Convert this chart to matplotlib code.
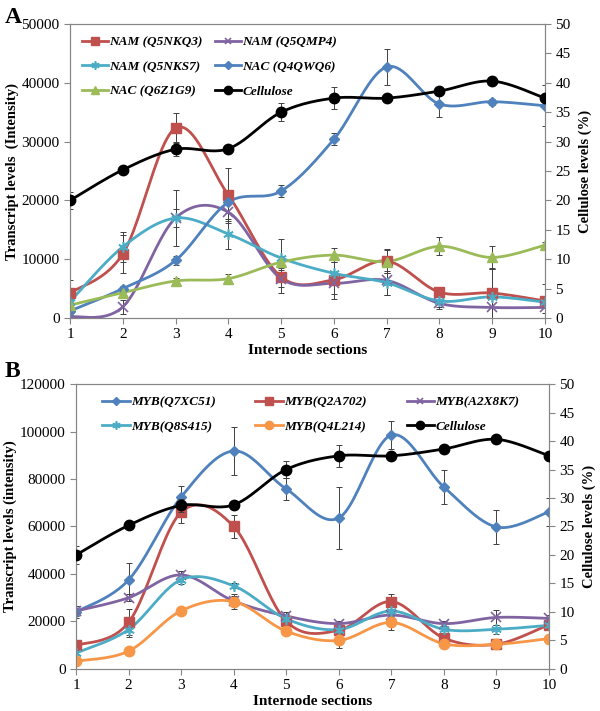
import numpy as np
import matplotlib
matplotlib.use("Agg")
import matplotlib.pyplot as plt
from matplotlib.lines import Line2D

plt.rcParams['font.family'] = ['Liberation Serif', 'DejaVu Serif']

sections = [1, 2, 3, 4, 5, 6, 7, 8, 9, 10]

# cellulose (%), shared by both panels
cellulose = [20.0, 25.2, 28.7, 28.8, 35.0, 37.4, 37.4, 38.6, 40.3, 37.4]
cellulose_err = [1.5, 0.4, 1.2, 0.7, 1.5, 1.9, 0.5, 0.6, 0.5, 0.6]

# panel A
nam_q5nkq3 = [4250, 10900, 32300, 20900, 7000, 6500, 9700, 4400, 4250, 2900]
nam_q5nkq3_err = [2300, 3300, 2600, 4700, 2800, 3300, 2000, 500, 4200, 2900]
nam_q5qmp4 = [200, 1900, 17000, 18000, 6700, 5900, 6400, 2500, 1800, 1800]
nam_q5qmp4_err = [300, 1200, 1500, 1500, 1500, 1800, 2500, 1000, 1800, 1000]
nam_q5nks7 = [2800, 12100, 17000, 14300, 10200, 7600, 6000, 2900, 3600, 2700]
nam_q5nks7_err = [500, 2500, 4700, 2600, 3300, 2000, 2000, 1000, 4700, 1000]
nac_q4qwq6 = [1200, 5000, 9800, 19700, 21600, 30400, 42700, 36400, 36800, 36100]
nac_q4qwq6_err = [300, 500, 700, 1800, 1000, 1000, 3000, 2200, 500, 3500]
nac_q6z1g9 = [2200, 4300, 6300, 6700, 9500, 10700, 9600, 12200, 10300, 12400]
nac_q6z1g9_err = [500, 500, 500, 800, 1000, 1200, 2000, 1500, 2000, 500]

# panel B
myb_q7xc51 = [24000, 37500, 72400, 91800, 75800, 63600, 98500, 76600, 59800, 66200]
myb_q7xc51_err = [2500, 7000, 4700, 10200, 4500, 13000, 6000, 7000, 7000, 6000]
myb_q2a702 = [9900, 19600, 66000, 60000, 20100, 16300, 28400, 13000, 10400, 18700]
myb_q2a702_err = [1500, 5500, 4500, 5000, 2000, 2000, 3000, 1500, 1500, 1500]
myb_a2x8k7 = [24400, 30000, 39600, 28600, 22300, 19100, 22700, 19100, 21700, 21300]
myb_a2x8k7_err = [2000, 1500, 1500, 2000, 1500, 1000, 2000, 1000, 3000, 1500]
myb_q8s415 = [6700, 16600, 37600, 35000, 21100, 16600, 24400, 16700, 16700, 18400]
myb_q8s415_err = [1500, 3000, 2000, 1000, 2000, 2000, 2000, 3000, 2000, 1500]
myb_q4l214 = [3300, 7500, 24500, 28400, 15900, 12000, 19600, 10600, 10400, 12800]
myb_q4l214_err = [500, 700, 1000, 3000, 1000, 3000, 3000, 1000, 500, 500]

blue = '#4F81BD'
red = '#C0504D'
green = '#9BBB59'
purple = '#8064A2'
cyan = '#4BACC6'
orange = '#F79646'
grey = '#868686'
star = (6, 2, 0)


def smooth(x, y, n=25):
    # excel-like smoothed line through the points
    x = np.asarray(x, float)
    y = np.asarray(y, float)
    px = np.concatenate([[x[0]], x, [x[-1]]])
    py = np.concatenate([[y[0]], y, [y[-1]]])
    t = np.linspace(0, 1, n)[:, None]
    out = []
    for i in range(len(x) - 1):
        p0 = np.array([px[i], py[i]])
        p1 = np.array([px[i + 1], py[i + 1]])
        p2 = np.array([px[i + 2], py[i + 2]])
        p3 = np.array([px[i + 3], py[i + 3]])
        c1 = p1 + (p2 - p0) / 6
        c2 = p2 - (p3 - p1) / 6
        seg = ((1 - t) ** 3) * p1 + 3 * ((1 - t) ** 2) * t * c1 + 3 * (1 - t) * t ** 2 * c2 + t ** 3 * p2
        out.append(seg)
    out = np.vstack(out)
    return out[:, 0], out[:, 1]


def draw(ax, y, err, color, marker, ms, mew=1.0):
    ax.errorbar(sections, y, yerr=err, fmt='none', ecolor='#404040',
                elinewidth=0.7, capsize=2.5, capthick=0.7, zorder=2)
    sx, sy = smooth(sections, y)
    ax.plot(sx, sy, color=color, lw=2.0, zorder=3)
    ax.plot(sections, y, ls='none', marker=marker, ms=ms, color=color,
            mec=color, mew=mew, zorder=4)
    return Line2D([], [], color=color, lw=2.0, marker=marker, ms=ms - 1.5, mec=color, mew=mew)


def style(ax, ax2, ymax, ystep):
    ax.set_xlim(1, 10)
    ax.set_xticks(sections)
    ax.set_ylim(0, ymax)
    ax.set_yticks(np.arange(0, ymax + 1, ystep))
    ax2.set_ylim(0, 50)
    ax2.set_yticks(np.arange(0, 51, 5))
    for a in (ax, ax2):
        for s in a.spines.values():
            s.set_color(grey)
            s.set_linewidth(0.8)
        a.tick_params(colors=grey, labelcolor='black', labelsize=11, length=4, width=0.8)
    ax.set_xlabel('Internode sections', fontsize=11, fontweight='bold', labelpad=2)
    ax2.set_ylabel('Cellulose levels (%)', fontsize=10.5, fontweight='bold', rotation=90, labelpad=6)


fig = plt.figure(figsize=(6.0, 7.11), dpi=100)
leg_font = dict(family='Liberation Serif', weight='bold', style='italic', size=9.5)

# ---- panel A
axA = fig.add_axes([0.1167, 0.5527, 0.7916, 0.4135])
axA2 = axA.twinx()
hA = []
hA.append(draw(axA, nam_q5nkq3, nam_q5nkq3_err, red, 's', 7))
hA.append(draw(axA, nam_q5qmp4, nam_q5qmp4_err, purple, 'x', 6.5, 1.2))
hA.append(draw(axA, nam_q5nks7, nam_q5nks7_err, cyan, star, 7.5, 1.2))
hA.append(draw(axA, nac_q4qwq6, nac_q4qwq6_err, blue, 'D', 5.5))
hA.append(draw(axA, nac_q6z1g9, nac_q6z1g9_err, green, '^', 7.5))
hA.append(draw(axA2, cellulose, cellulose_err, 'black', 'o', 7.5))
style(axA, axA2, 50000, 10000)
axA.set_ylabel('Transcript levels  (Intensity)', fontsize=10.5, fontweight='bold', labelpad=2)
labelsA = ['NAM (Q5NKQ3)', 'NAM (Q5QMP4)', 'NAM (Q5NKS7)', 'NAC (Q4QWQ6)',
           'NAC (Q6Z1G9)', 'Cellulose']
order = [0, 2, 4, 1, 3, 5]
axA2.legend([hA[i] for i in order], [labelsA[i] for i in order], ncol=2,
            loc='upper left', bbox_to_anchor=(0.0, 1.0), frameon=False, prop=leg_font,
            handlelength=2.0, handletextpad=0.1, columnspacing=0.9, labelspacing=0.95)
fig.text(0.008, 0.975, 'A', fontsize=17, fontweight='bold', va='center')

# ---- panel B
axB = fig.add_axes([0.1267, 0.0591, 0.7883, 0.4008])
axB2 = axB.twinx()
hB = []
hB.append(draw(axB, myb_q7xc51, myb_q7xc51_err, blue, 'D', 5.5))
hB.append(draw(axB, myb_q2a702, myb_q2a702_err, red, 's', 7))
hB.append(draw(axB, myb_a2x8k7, myb_a2x8k7_err, purple, 'x', 6.5, 1.2))
hB.append(draw(axB, myb_q8s415, myb_q8s415_err, cyan, star, 7.5, 1.2))
hB.append(draw(axB, myb_q4l214, myb_q4l214_err, orange, 'o', 7.5))
hB.append(draw(axB2, cellulose, cellulose_err, 'black', 'o', 7.5))
style(axB, axB2, 120000, 20000)
axB.set_ylabel('Transcript levels (intensity)', fontsize=10.5, fontweight='bold', labelpad=2)
labelsB = ['MYB(Q7XC51)', 'MYB(Q2A702)', 'MYB(A2X8K7)', 'MYB(Q8S415)',
           'MYB(Q4L214)', 'Cellulose']
orderB = [0, 3, 1, 4, 2, 5]
axB2.legend([hB[i] for i in orderB], [labelsB[i] for i in orderB], ncol=3,
            loc='upper left', bbox_to_anchor=(0.03, 1.0), frameon=False, prop=leg_font,
            handlelength=2.1, handletextpad=0.1, columnspacing=3.0, labelspacing=0.95)
fig.text(0.008, 0.478, 'B', fontsize=17, fontweight='bold', va='center')

fig.savefig('out.png', dpi=100)
